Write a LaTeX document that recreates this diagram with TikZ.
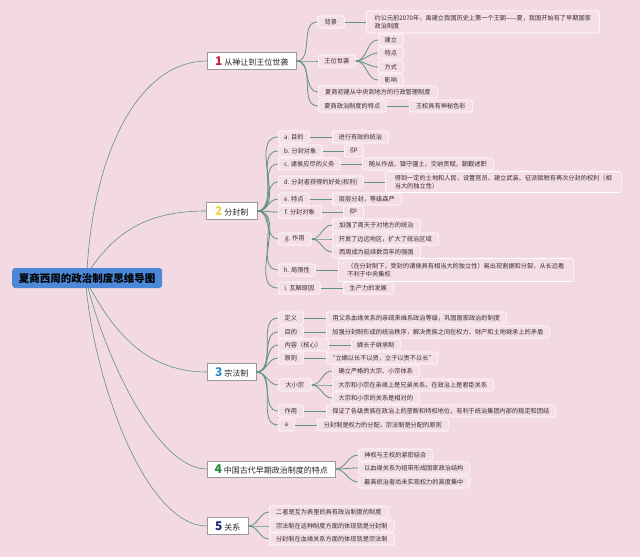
\documentclass[tikz,border=0pt]{standalone}
\usepackage{fontspec}
\setmainfont{Noto Sans CJK SC}
\definecolor{bgc}{RGB}{243,217,225}
\definecolor{leaffill}{RGB}{245,223,230}
\definecolor{connc}{RGB}{95,148,128}
\definecolor{rootc}{RGB}{76,136,216}
\definecolor{textc}{RGB}{55,45,50}
\definecolor{nA}{RGB}{205,30,60}
\definecolor{nB}{RGB}{240,208,60}
\definecolor{nC}{RGB}{40,140,210}
\definecolor{nD}{RGB}{30,140,50}
\definecolor{nE}{RGB}{30,40,120}
\tikzset{
  leaf/.style={draw=white, line width=0.6pt, fill=leaffill, rounded corners=2pt, anchor=west,
    font=\fontsize{6.2}{7.6}\selectfont, inner xsep=3pt, inner ysep=1pt, minimum height=12pt, text=textc},
  branch/.style={draw=black!40, line width=0.5pt, fill=white, anchor=west, inner xsep=3pt,
    font=\fontsize{8}{9}\selectfont, minimum height=17pt, text=black!85},
  rootnode/.style={fill=rootc, rounded corners=3pt, anchor=west, font=\fontsize{10.5}{12}\selectfont\bfseries,
    minimum height=20pt, minimum width=150pt, text=black},
  conn/.style={draw=connc, line width=0.8pt},
  rconn/.style={draw=connc, line width=0.6pt}
}
\begin{document}
\begin{tikzpicture}[x=1pt,y=-1pt]
\fill[bgc] (0,0) rectangle (640,557);
\useasboundingbox (0,0) rectangle (640,557);
% root
\node[rootnode] (root) at (12,278) {夏商西周的政治制度思维导图};
% branches
\node[branch, minimum width=89pt] (b1) at (207,61) {{\color{nA}\fontsize{12}{12}\selectfont\bfseries 1}\hspace{2pt}从禅让到王位世袭};
\node[branch, minimum width=51pt] (b2) at (206,211) {{\color{nB}\fontsize{12}{12}\selectfont\bfseries 2}\hspace{2pt}分封制};
\node[branch, minimum width=49pt] (b3) at (207,372) {{\color{nC}\fontsize{12}{12}\selectfont\bfseries 3}\hspace{2pt}宗法制};
\node[branch, minimum width=128pt, minimum height=15pt] (b4) at (207,469) {{\color{nD}\fontsize{12}{12}\selectfont\bfseries 4}\hspace{2pt}中国古代早期政治制度的特点};
\node[branch, minimum width=41pt] (b5) at (207,526) {{\color{nE}\fontsize{12}{12}\selectfont\bfseries 5}\hspace{2pt}关系};
% root connectors
\draw[rconn] (root.north) .. controls +(7,-118) and +(-67,0) .. (b1.west);
\draw[rconn] ([xshift=4pt]root.north) .. controls +(25,-35) and +(-60,0) .. (b2.west);
\draw[rconn] ([xshift=3pt]root.south) .. controls +(25,45) and +(-60,0) .. (b3.west);
\draw[rconn] ([xshift=1pt]root.south) .. controls +(18,70) and +(-50,0) .. (b4.west);
\draw[rconn] ([xshift=-1pt]root.south) .. controls +(10,100) and +(-60,0) .. (b5.west);
% ---------- branch 1
\node[leaf, minimum width=27pt] (a1) at (317,22) {背景};
\node[leaf, minimum width=233pt, align=left, minimum height=22pt] (a1x) at (366,22) {约公元前2070年，禹建立我国历史上第一个王朝——夏，我国开始有了早期国家\\政治制度};
\node[leaf, minimum width=37pt] (a2) at (318,61) {王位世袭};
\node[leaf, minimum width=25pt] (a2a) at (378,40) {建立};
\node[leaf, minimum width=25pt] (a2b) at (378,53) {特点};
\node[leaf, minimum width=25pt] (a2c) at (378,67) {方式};
\node[leaf, minimum width=25pt] (a2d) at (378,80) {影响};
\node[leaf, minimum width=119pt] (a3) at (318,92) {夏商初建从中央到地方的行政管理制度};
\node[leaf, minimum width=68pt] (a4) at (318,106) {夏商政治制度的特点};
\node[leaf, minimum width=63pt] (a4x) at (409,106) {王权具有神秘色彩};
\foreach \c in {a1,a2,a3,a4} \draw[conn] (b1.east) to[out=0,in=180] (\c.west);
\draw[conn] (a1.east) -- (a1x.west);
\foreach \c in {a2a,a2b,a2c,a2d} \draw[conn] (a2.east) to[out=0,in=180] (\c.west);
\draw[conn] (a4.east) -- (a4x.west);
% ---------- branch 2
\node[leaf, minimum width=31pt] (c1) at (278,137) {a. 目的};
\node[leaf, minimum width=56pt] (c1x) at (332,137) {进行有效的统治};
\node[leaf, minimum width=44pt] (c2) at (278,151) {b. 分封对象};
\node[leaf, minimum width=19pt] (c2x) at (344,151) {gp};
\node[leaf, minimum width=62pt] (c3) at (278,164) {c. 诸侯应尽的义务};
\node[leaf, minimum width=131pt] (c3x) at (362,164) {随从作战，镇守疆土，交纳贡赋，朝觐述职};
\node[leaf, minimum width=85pt] (c4) at (278,182) {d. 分封者获得的好处(权利)};
\node[leaf, minimum width=236pt, align=left, minimum height=21pt] (c4x) at (385,182) {得到一定的土地和人民，设置官员、建立武装、征派赋税有再次分封的权利（相\\当大的独立性）};
\node[leaf, minimum width=31pt] (c5) at (278,199) {e. 特点};
\node[leaf, minimum width=69pt] (c5x) at (332,199) {层层分封，等级森严};
\node[leaf, minimum width=43pt] (c6) at (278,212) {f. 分封对象};
\node[leaf, minimum width=20pt] (c6x) at (343,212) {gp};
\node[leaf, minimum width=33pt] (c7) at (278,239) {g. 作用};
\node[leaf, minimum width=88pt] (c7a) at (332,225) {加强了周天子对地方的统治};
\node[leaf, minimum width=106pt] (c7b) at (332,239) {开发了边远地区，扩大了统治区域};
\node[leaf, minimum width=88pt] (c7c) at (332,252) {西周成为延续数百年的强国};
\node[leaf, minimum width=37pt] (c8) at (278,270) {h. 局限性};
\node[leaf, minimum width=235pt, align=left, minimum height=23pt] (c8x) at (338,270) {（在分封制下，受封的诸侯具有相当大的独立性）易出现割据和分裂，从长远看\\不利于中央集权};
\node[leaf, minimum width=42pt] (c9) at (278,288) {i. 瓦解原因};
\node[leaf, minimum width=50pt] (c9x) at (343,288) {生产力的发展};
\foreach \c in {c1,c2,c3,c4,c5,c6,c7,c8,c9} \draw[conn] (b2.east) to[out=0,in=180] (\c.west);
\foreach \c in {c1,c2,c3,c4,c5,c6,c8,c9} \draw[conn] (\c.east) -- (\c x.west);
\foreach \c in {c7a,c7b,c7c} \draw[conn] (c7.east) to[out=0,in=180] (\c.west);
% ---------- branch 3
\node[leaf, minimum width=25pt] (d1) at (278,318) {定义};
\node[leaf, minimum width=180pt] (d1x) at (326,318) {用父系血缘关系的亲疏来维系政治等级，巩固国家政治的制度};
\node[leaf, minimum width=25pt] (d2) at (278,332) {目的};
\node[leaf, minimum width=223pt] (d2x) at (326,332) {加强分封制形成的统治秩序，解决贵族之间在权力、财产和土地继承上的矛盾};
\node[leaf, minimum width=50pt] (d3) at (278,345) {内容（核心）};
\node[leaf, minimum width=49pt] (d3x) at (351,345) {嫡长子继承制};
\node[leaf, minimum width=25pt] (d4) at (278,358) {原则};
\node[leaf, minimum width=111pt] (d4x) at (326,358) {“立嫡以长不以贤，立子以贵不以长”};
\node[leaf, minimum width=33pt] (d5) at (278,385) {大小宗};
\node[leaf, minimum width=87pt] (d5a) at (332,371) {确立严格的大宗、小宗体系};
\node[leaf, minimum width=161pt] (d5b) at (332,385) {大宗和小宗在亲缘上是兄弟关系，在政治上是君臣关系};
\node[leaf, minimum width=87pt] (d5c) at (332,398) {大宗和小宗的关系是相对的};
\node[leaf, minimum width=25pt] (d6) at (278,411) {作用};
\node[leaf, minimum width=229pt] (d6x) at (326,411) {保证了各级贵族在政治上的垄断和特权地位，有利于统治集团内部的稳定和团结};
\node[leaf, minimum width=16pt] (d7) at (278,425) {a};
\node[leaf, minimum width=131pt] (d7x) at (317,425) {分封制是权力的分配，宗法制是分配的原则};
\foreach \c in {d1,d2,d3,d4,d5,d6,d7} \draw[conn] (b3.east) to[out=0,in=180] (\c.west);
\foreach \c in {d1,d2,d3,d4,d6,d7} \draw[conn] (\c.east) -- (\c x.west);
\foreach \c in {d5a,d5b,d5c} \draw[conn] (d5.east) to[out=0,in=180] (\c.west);
% ---------- branch 4
\node[leaf, minimum width=74pt] (e1) at (358,455) {神权与王权的紧密结合};
\node[leaf, minimum width=111pt] (e2) at (358,468) {以血缘关系为纽带形成国家政治结构};
\node[leaf, minimum width=111pt] (e3) at (358,482) {最高统治者尚未实现权力的高度集中};
\foreach \c in {e1,e2,e3} \draw[conn] (b4.east) to[out=0,in=180] (\c.west);
% ---------- branch 5
\node[leaf, minimum width=119pt] (f1) at (269,512) {二者是互为表里的具有政治制度的制度};
\node[leaf, minimum width=125pt] (f2) at (269,526) {宗法制在这种制度方面的体现就是分封制};
\node[leaf, minimum width=125pt] (f3) at (269,539) {分封制在血缘关系方面的体现就是宗法制};
\foreach \c in {f1,f2,f3} \draw[conn] (b5.east) to[out=0,in=180] (\c.west);
\end{tikzpicture}
\end{document}
